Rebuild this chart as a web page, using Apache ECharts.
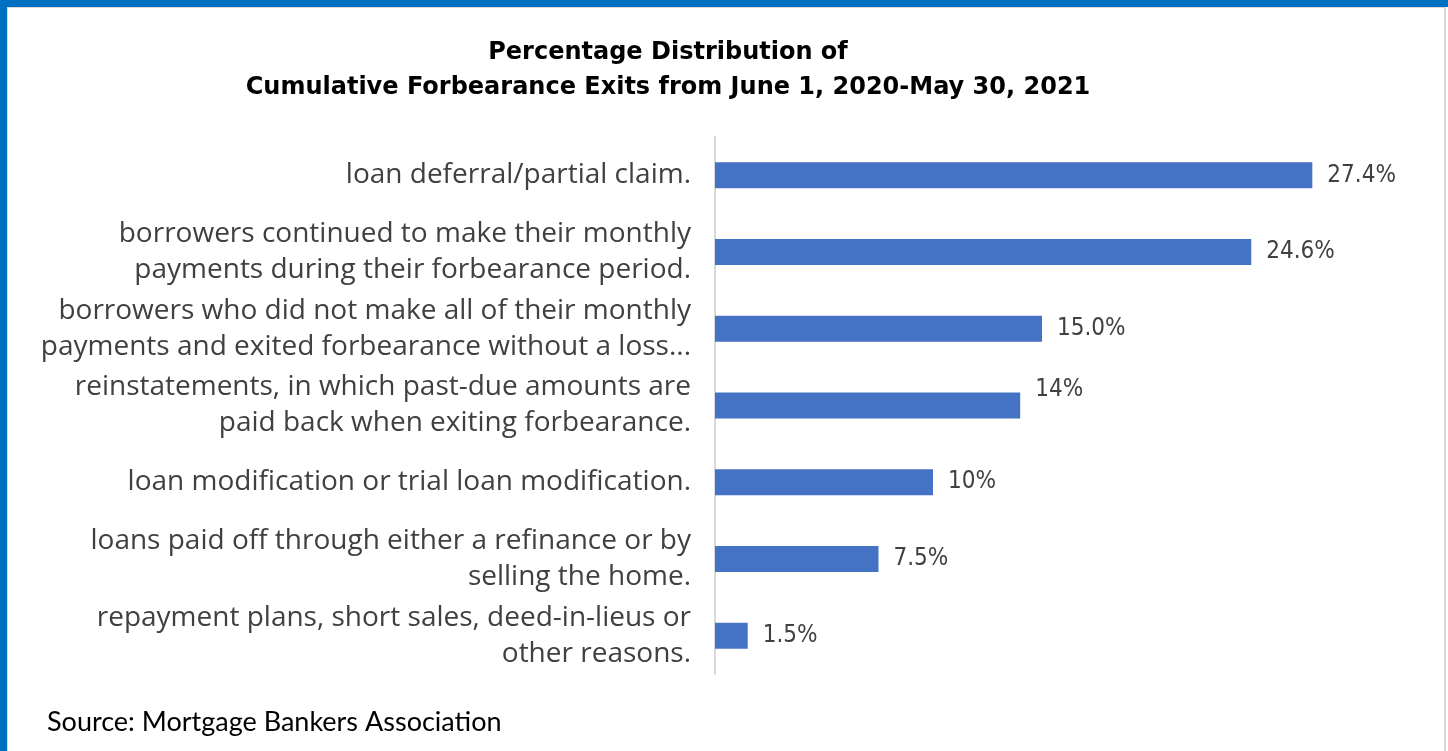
<!DOCTYPE html>
<html>
<head>
<meta charset="utf-8">
<script src="https://cdn.jsdelivr.net/npm/echarts@6/dist/echarts.min.js"></script>
<style>
  html, body { margin:0; padding:0; background:#fff; }
  #frame { position:absolute; left:0; top:0; width:1448px; height:751px; box-sizing:border-box;
           border-left:7px solid #0070C0; border-top:7px solid #0070C0; background:#fff; }
  #inner { position:absolute; left:7px; top:7px; width:1439px; height:744px; box-sizing:border-box;
           border-left:1px solid #d9d9d9; border-top:1px solid #d9d9d9; border-right:2px solid #d9d9d9; }
  #chart { position:absolute; left:0; top:0; width:1448px; height:751px; }
</style>
</head>
<body>
<div id="frame"></div>
<div id="inner"></div>
<div id="chart"></div>
<script>
const titleLines = ['Percentage Distribution of', 'Cumulative Forbearance Exits from June 1, 2020-May 30, 2021'];
const sourceText = 'Source: Mortgage Bankers Association';
const categories = [
  'loan deferral/partial claim.',
  'borrowers continued to make their monthly\npayments during their forbearance period.',
  'borrowers who did not make all of their monthly\npayments and exited forbearance without a loss...',
  'reinstatements, in which past-due amounts are\npaid back when exiting forbearance.',
  'loan modification or trial loan modification.',
  'loans paid off through either a refinance or by\nselling the home.',
  'repayment plans, short sales, deed-in-lieus or\nother reasons.'
];
const values = [27.4, 24.6, 15.0, 14, 10, 7.5, 1.5];
const valueLabels = ['27.4%', '24.6%', '15.0%', '14%', '10%', '7.5%', '1.5%'];

const chart = echarts.init(document.getElementById('chart'), null, {renderer:'canvas'});
const seriesData = values.map((v, i) => {
  const item = { value: v };
  if (i === 3) item.label = { offset: [0, -16] };
  return item;
});
chart.setOption({
  backgroundColor: 'transparent',
  animation: false,
  title: {
    text: titleLines.join('\n'),
    left: 663, top: 30, textAlign: 'center',
    textStyle: { fontFamily: 'DejaVu Sans', fontWeight: 'bold', fontSize: 24, color: '#000', lineHeight: 35 }
  },
  grid: { left: 715, right: 79, top: 137, bottom: 77, containLabel: false },
  xAxis: { type: 'value', min: 0, max: 30, show: false },
  yAxis: {
    type: 'category', data: categories, inverse: true,
    axisLine: { show: true, lineStyle: { color: '#d9d9d9', width: 2 } },
    axisTick: { show: false },
    axisLabel: { margin: 24, fontFamily: 'Open Sans', fontSize: 28, color: '#404040', lineHeight: 36, align: 'right' }
  },
  series: [{
    type: 'bar', data: seriesData, barWidth: 26,
    itemStyle: { color: '#4472C4' },
    label: {
      show: true, position: 'right', distance: 15,
      fontFamily: "'DejaVu Sans Condensed', Roboto, sans-serif", fontSize: 24, color: '#404040',
      formatter: p => valueLabels[p.dataIndex]
    }
  }],
  graphic: [{
    type: 'text', left: 47, top: 709,
    style: { text: sourceText, fontFamily: 'Lato', fontSize: 27, fill: '#000' }
  }]
});
</script>
</body>
</html>
